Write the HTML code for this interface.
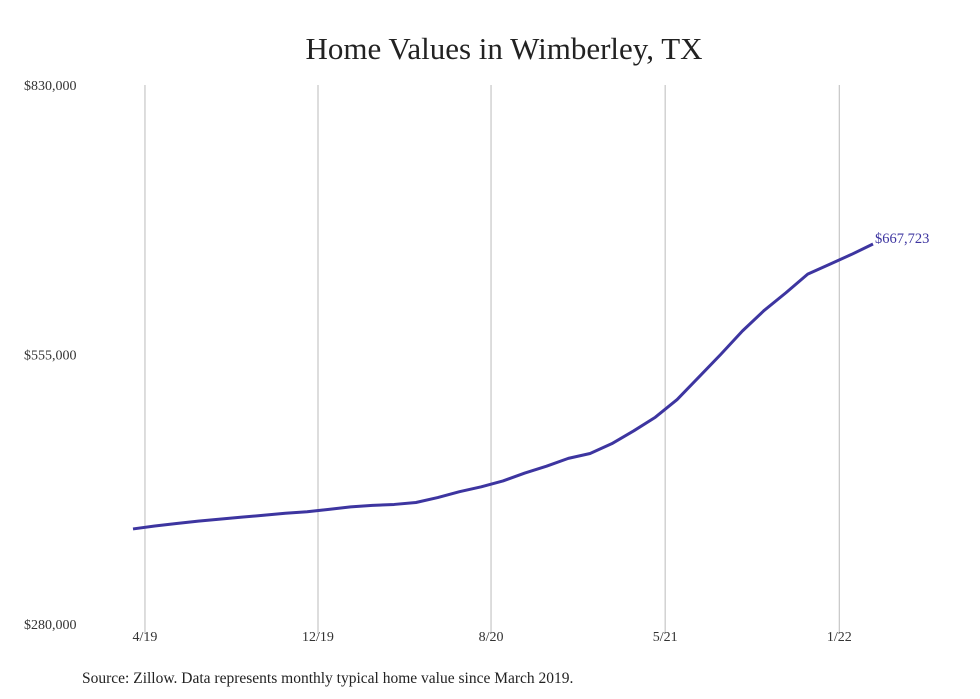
<!DOCTYPE html>
<html><head><meta charset="utf-8"><style>
body{margin:0;background:#fff;}
svg{display:block;font-family:"Liberation Serif",serif;}
</style></head><body>
<svg id="chart" width="980" height="699" viewBox="0 0 980 699">
<rect width="980" height="699" fill="#fff"/>
<text x="504" y="59" text-anchor="middle" font-size="31" fill="#222">Home Values in Wimberley, TX</text>
<g id="grid"></g><g id="yaxis"></g><g id="xaxis"></g><g id="series"></g>
<text x="82" y="683" font-size="15.5" fill="#222">Source: Zillow. Data represents monthly typical home value since March 2019.</text>
</svg>
<script>
const values = [377000,380000,382500,385000,387000,389000,391000,393000,394500,397000,399500,401000,402000,404000,409000,415000,420000,426000,434000,441000,449000,454000,464000,477000,491000,509000,532000,555000,579000,600000,618000,637000,647000,657000,667723];
const yTicks = [280000,555000,830000];
const yTickLabels = ["$280,000","$555,000","$830,000"];
const xTickLabels = ["4/19","12/19","8/20","5/21","1/22"];
const xTickIndex = [0.55,8.5,16.45,24.45,32.45];
const endLabel = "$667,723";

const NS="http://www.w3.org/2000/svg";
const x0=133,x1=873,yTop=85,yBot=624,vMin=280000,vMax=830000;
const xs=i=>x0+i*(x1-x0)/(values.length-1);
const ys=v=>yBot-(v-vMin)/(vMax-vMin)*(yBot-yTop);
function mk(tag,attrs,parent){const e=document.createElementNS(NS,tag);for(const k in attrs)e.setAttribute(k,attrs[k]);parent.appendChild(e);return e;}
const grid=document.getElementById('grid'),xa=document.getElementById('xaxis'),ya=document.getElementById('yaxis'),se=document.getElementById('series');
xTickIndex.forEach((idx,j)=>{
  const x=xs(idx);
  const l=mk('line',{x1:x,x2:x,y1:yTop,y2:yBot+10,stroke:'#bbb','stroke-width':1},grid);
  
  
  const t=mk('text',{x:x,y:641,'text-anchor':'middle','font-size':14,fill:'#333'},xa);
  t.textContent=xTickLabels[j];
  
  
});
yTicks.forEach((v,j)=>{
  const t=mk('text',{x:24,y:ys(v)+5,'font-size':14,fill:'#333'},ya);
  t.textContent=yTickLabels[j];
  
  
});
const p=mk('polyline',{points:values.map((v,i)=>xs(i)+','+ys(v)).join(' '),fill:'none',stroke:'#3d35a0','stroke-width':3,'stroke-linejoin':'round'},se);


const last=values.length-1;
const el=mk('text',{x:xs(last)+2,y:ys(values[last])-1,'font-size':14.5,fill:'#3d35a0'},se);
el.textContent=endLabel;


</script>
</body></html>
